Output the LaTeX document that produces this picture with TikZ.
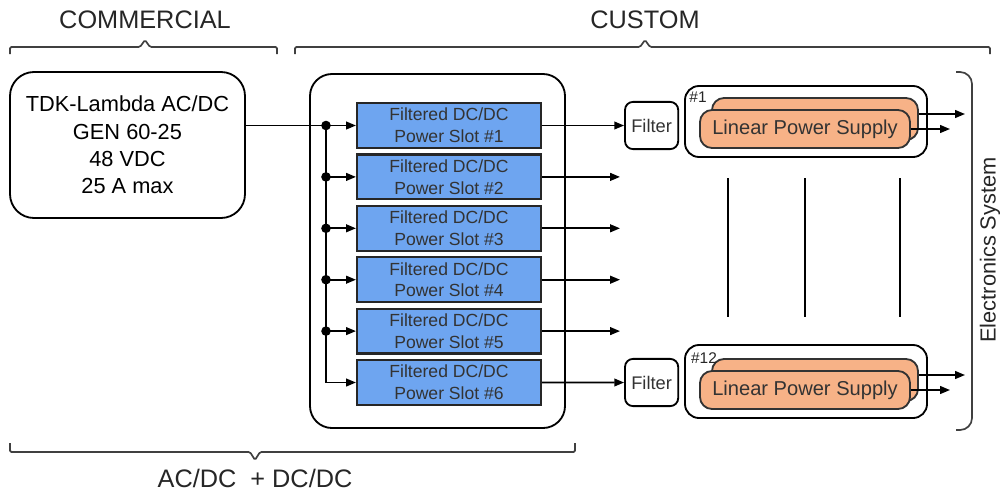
\documentclass[tikz,border=0pt]{standalone}
\usepackage{fontspec}
\setmainfont{Liberation Sans}
\usetikzlibrary{arrows.meta, positioning}
\definecolor{slotblue}{RGB}{110,165,240}
\definecolor{lpsorange}{RGB}{247,178,135}

\begin{document}
\begin{tikzpicture}[
    header/.style={font=\fontsize{18}{20}\selectfont, text=black!85},
    supply/.style={rectangle, draw, rounded corners=0.6cm, align=center, minimum width=5.875cm, minimum height=3.65cm, line width=1.3pt, font=\fontsize{15.5}{19.4}\selectfont},
    rack/.style={rectangle, draw, rounded corners=0.55cm, minimum width=6.375cm, minimum height=8.85cm, line width=1.3pt},
    slot/.style={rectangle, draw=black!85, fill=slotblue, align=center, minimum width=4.6cm, minimum height=1.12cm, line width=1.5pt, inner sep=0pt, font=\fontsize{12.5}{15.5}\selectfont, text=black!80},
    filter/.style={rectangle, draw, rounded corners=0.2cm, minimum width=1.33cm, minimum height=1.18cm, line width=1.3pt, inner sep=0pt, font=\fontsize{13}{15}\selectfont, text=black!80},
    group/.style={rectangle, draw, rounded corners=0.35cm, minimum width=6.05cm, line width=1.3pt},
    lpsback/.style={rectangle, draw=black!80, fill=lpsorange, rounded corners=0.3cm, minimum width=5.15cm, minimum height=1.05cm, line width=1.3pt},
    lps/.style={rectangle, draw=black!80, fill=lpsorange, rounded corners=0.3cm, minimum width=5.25cm, minimum height=0.95cm, line width=1.3pt, inner sep=0pt, font=\fontsize{14.3}{16}\selectfont, text=black!80},
    bracket/.style={line width=1.2pt, draw=black!75},
    arrow/.style={-{Triangle[length=7pt, width=5.5pt]}, line width=1.2pt}
]
\useasboundingbox (0,0) rectangle (25.175,-12.375);

% Headers
\node[header] (commercial) at (3.625, -0.5) {COMMERCIAL};
\node[header] (custom)     at (16.125, -0.5) {CUSTOM};
\node[header] (sum)        at (6.375, -11.95) {AC/DC \ + DC/DC};

\draw[bracket, rounded corners=1pt] (0.25,-1.35) -- (0.25,-1.175) -- (3.5,-1.175) -- (3.625,-1.0) -- (3.75,-1.175) -- (6.925,-1.175) -- (6.925,-1.35);
\draw[bracket, rounded corners=1pt] (7.375,-1.35) -- (7.375,-1.175) -- (16.0,-1.175) -- (16.125,-1.0) -- (16.25,-1.175) -- (24.75,-1.175) -- (24.75,-1.35);
\draw[bracket, rounded corners=1pt] (0.25,-11.075) -- (0.25,-11.3) -- (6.25,-11.3) -- (6.375,-11.5) -- (6.5,-11.3) -- (14.375,-11.3) -- (14.375,-11.075);

% AC/DC supply and DC/DC rack
\node[supply] (acdc)  at (3.1875, -3.625) {TDK-Lambda AC/DC \\ GEN 60-25 \\ 48 VDC \\ 25 A max};
\node[rack]   (dcdc)  at (10.9375, -6.275) {};

\foreach \i in {1,...,6} {
    \node[slot] (slot\i) at (11.225, {-3.1375-(\i-1)*1.285}) {Filtered DC/DC \\ Power Slot \#\i};
    \coordinate (j\i)   at (8.15, {-3.1375-(\i-1)*1.285});
    \coordinate (out\i) at (15.5, {-3.1375-(\i-1)*1.285});
}

% Filters and linear supplies
\node[filter] (filter_top) at (16.29, -3.1375) {Filter};
\node[filter] (filter_bot) at (16.29, -9.5625) {Filter};

\node[group, minimum height=1.775cm] (group_top) at (20.15, -3.0375) {};
\node[group, minimum height=1.825cm] (group_bot) at (20.15, -9.5375) {};

\node[lpsback] (lps_top_back) at (20.375, -2.975) {};
\node[lps]     (lps_top)      at (20.125, -3.225) {Linear Power Supply};
\node[lpsback] (lps_bot_back) at (20.375, -9.5) {};
\node[lps]     (lps_bot)      at (20.125, -9.75) {Linear Power Supply};

\node[font=\fontsize{11}{12}\selectfont, text=black!85] (num_top) at (17.45, -2.42) {\#1};
\node[font=\fontsize{11}{12}\selectfont, text=black!85] (num_bot) at (17.6, -8.95) {\#12};

\coordinate (sys_top_a) at (24.125, -2.85);
\coordinate (sys_top_b) at (23.75, -3.225);
\coordinate (sys_bot_a) at (24.125, -9.375);
\coordinate (sys_bot_b) at (23.75, -9.75);

% Electronics system
\draw[bracket, rounded corners=0.3cm] (23.9,-1.8) -| (24.3,-6.2) |- (23.9,-10.75);
\node[font=\fontsize{15.5}{18}\selectfont, text=black!85, rotate=90] (system) at (24.75, -6.25) {Electronics System};

% Edges
\draw[line width=1.2pt] (acdc.east |- j1) -- (j1);
\draw[line width=1.2pt] (j1) -- (j5);
\draw[arrow] (j5) |- (slot6.west);
\foreach \i in {1,...,5} {
    \draw[arrow] (j\i) -- (slot\i.west);
    \fill (j\i) circle (0.12);
}

\draw[arrow] (slot1.east) -- (filter_top.west);
\foreach \i in {2,...,5}
    \draw[arrow] (slot\i.east) -- (out\i);
\draw[arrow] (slot6.east) -- (filter_bot.west);

\draw[arrow] (lps_top_back.east |- sys_top_a) -- (sys_top_a);
\draw[arrow] (lps_top.east) -- (sys_top_b);
\draw[arrow] (lps_bot_back.east |- sys_bot_a) -- (sys_bot_a);
\draw[arrow] (lps_bot.east) -- (sys_bot_b);

% Repeated channels in between
\foreach \x in {18.2, 20.125, 22.5}
    \draw[line width=1.2pt] (\x,-4.45) -- (\x,-7.925);

\end{tikzpicture}
\end{document}
